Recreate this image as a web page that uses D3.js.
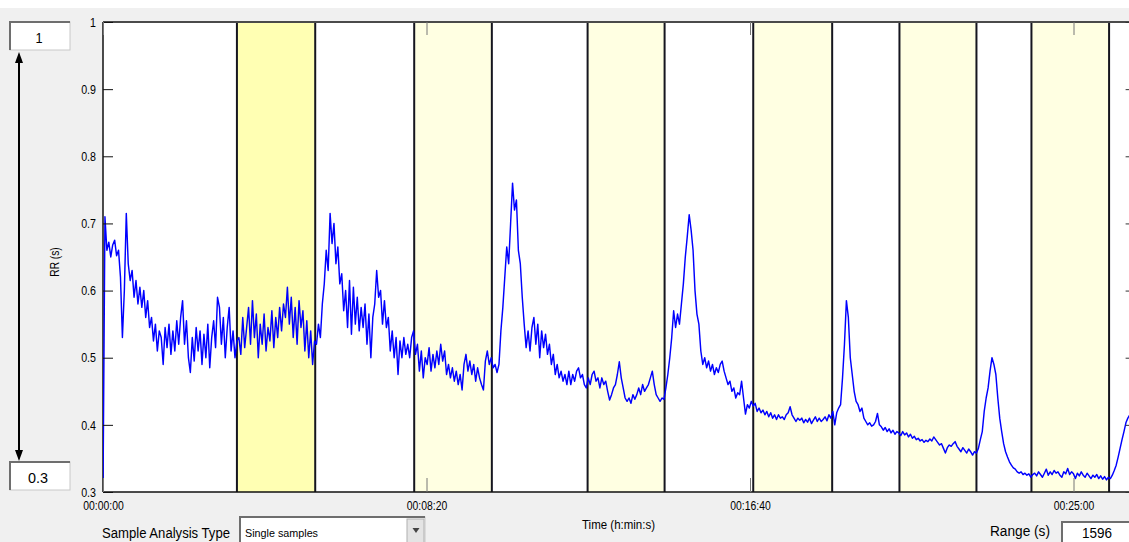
<!DOCTYPE html>
<html>
<head>
<meta charset="utf-8">
<script src="https://cdn.jsdelivr.net/npm/d3@7"></script>
<style>
  html, body { margin: 0; padding: 0; background: #f0f0f0; overflow: hidden; }
  svg { display: block; font-family: "Liberation Sans", Arial, sans-serif; }
</style>
</head>
<body>
<svg id="chart" width="1129" height="542"></svg>
<script>
// ---- data -------------------------------------------------------------
// RR interval series (seconds), one sample every `sampleStep` seconds.
const sampleStep = 3;
const rrValues = [
  0.30, 0.71, 0.66, 0.672, 0.65, 0.668, 0.675, 0.652, 0.66, 0.62,
  0.53, 0.60, 0.715, 0.64, 0.615, 0.63, 0.59, 0.615, 0.58, 0.605,
  0.575, 0.60, 0.56, 0.585, 0.545, 0.56, 0.525, 0.55, 0.51, 0.54,
  0.53, 0.49, 0.545, 0.515, 0.55, 0.505, 0.54, 0.51, 0.555, 0.52,
  0.56, 0.585, 0.52, 0.555, 0.50, 0.478, 0.53, 0.495, 0.545, 0.51,
  0.54, 0.49, 0.535, 0.50, 0.55, 0.485, 0.53, 0.555, 0.515, 0.59,
  0.575, 0.52, 0.56, 0.50, 0.545, 0.575, 0.51, 0.54, 0.50, 0.525,
  0.53, 0.505, 0.56, 0.515, 0.545, 0.575, 0.52, 0.585, 0.53, 0.565,
  0.50, 0.55, 0.52, 0.565, 0.51, 0.545, 0.525, 0.57, 0.515, 0.56,
  0.53, 0.575, 0.54, 0.58, 0.56, 0.605, 0.55, 0.59, 0.53, 0.575,
  0.52, 0.585, 0.545, 0.57, 0.51, 0.555, 0.50, 0.54, 0.49, 0.525,
  0.52, 0.55, 0.53, 0.58, 0.61, 0.66, 0.63, 0.715, 0.67, 0.70,
  0.64, 0.665, 0.61, 0.625, 0.57, 0.60, 0.545, 0.615, 0.535, 0.605,
  0.55, 0.59, 0.54, 0.575, 0.545, 0.58, 0.52, 0.565, 0.50, 0.56,
  0.58, 0.63, 0.59, 0.60, 0.55, 0.585, 0.545, 0.56, 0.51, 0.54,
  0.50, 0.53, 0.475, 0.525, 0.50, 0.53, 0.505, 0.52, 0.50, 0.53,
  0.54, 0.505, 0.52, 0.48, 0.51, 0.47, 0.50, 0.49, 0.515, 0.48,
  0.505, 0.485, 0.51, 0.49, 0.52, 0.495, 0.51, 0.475, 0.49, 0.47,
  0.485, 0.465, 0.48, 0.46, 0.475, 0.452, 0.49, 0.505, 0.48, 0.495,
  0.475, 0.49, 0.465, 0.485, 0.47, 0.46, 0.452, 0.495, 0.51, 0.49,
  0.50, 0.485, 0.49, 0.478, 0.49, 0.54, 0.575, 0.62, 0.665, 0.64,
  0.70, 0.76, 0.72, 0.735, 0.66, 0.64, 0.59, 0.55, 0.515, 0.54,
  0.51, 0.545, 0.56, 0.52, 0.55, 0.50, 0.54, 0.515, 0.535, 0.505,
  0.52, 0.49, 0.505, 0.475, 0.49, 0.47, 0.48, 0.465, 0.475, 0.46,
  0.48, 0.46, 0.475, 0.465, 0.48, 0.485, 0.47, 0.475, 0.46, 0.455,
  0.47, 0.46, 0.475, 0.48, 0.465, 0.47, 0.455, 0.47, 0.46, 0.465,
  0.45, 0.437, 0.445, 0.455, 0.46, 0.475, 0.494, 0.47, 0.455, 0.44,
  0.435, 0.44, 0.432, 0.445, 0.438, 0.445, 0.455, 0.445, 0.46, 0.45,
  0.455, 0.46, 0.47, 0.48, 0.46, 0.445, 0.44, 0.435, 0.44, 0.438,
  0.455, 0.475, 0.50, 0.53, 0.57, 0.545, 0.565, 0.55, 0.58, 0.61,
  0.65, 0.68, 0.713, 0.69, 0.66, 0.60, 0.565, 0.55, 0.51, 0.49,
  0.50, 0.485, 0.495, 0.48, 0.49, 0.475, 0.485, 0.478, 0.49, 0.495,
  0.48, 0.47, 0.46, 0.465, 0.45, 0.455, 0.44, 0.448, 0.445, 0.465,
  0.44, 0.416, 0.43, 0.425, 0.435, 0.428, 0.432, 0.42, 0.425, 0.418,
  0.422, 0.415, 0.42, 0.412, 0.418, 0.41, 0.415, 0.408, 0.415, 0.41,
  0.412, 0.408, 0.415, 0.418, 0.427, 0.415, 0.41, 0.405, 0.41, 0.407,
  0.41, 0.403, 0.408, 0.404, 0.41, 0.402, 0.407, 0.412, 0.405, 0.41,
  0.405, 0.408, 0.412, 0.406, 0.415, 0.41, 0.42, 0.40, 0.418, 0.425,
  0.43, 0.47, 0.52, 0.585, 0.56, 0.50, 0.475, 0.45, 0.435, 0.43,
  0.42, 0.425, 0.41, 0.405, 0.40, 0.403, 0.398, 0.40, 0.405, 0.417,
  0.40, 0.397, 0.392, 0.396, 0.39, 0.394, 0.388, 0.392, 0.386, 0.39,
  0.388, 0.384, 0.39, 0.385, 0.388, 0.382, 0.386, 0.38, 0.383, 0.378,
  0.38, 0.376, 0.378, 0.374, 0.377, 0.375, 0.379, 0.376, 0.382, 0.378,
  0.374, 0.37, 0.372, 0.365, 0.358, 0.366, 0.37, 0.368, 0.372, 0.375,
  0.368, 0.364, 0.36, 0.366, 0.362, 0.358, 0.364, 0.36, 0.355, 0.36,
  0.358, 0.365, 0.378, 0.39, 0.42, 0.44, 0.455, 0.48, 0.50, 0.49,
  0.475, 0.44, 0.41, 0.39, 0.372, 0.36, 0.352, 0.345, 0.34, 0.336,
  0.334, 0.33, 0.328, 0.33, 0.326, 0.328, 0.325, 0.327, 0.322, 0.326,
  0.328, 0.324, 0.33, 0.326, 0.322, 0.328, 0.334, 0.325, 0.33, 0.326,
  0.332, 0.328, 0.33, 0.325, 0.322, 0.33, 0.327, 0.335, 0.326, 0.33,
  0.327, 0.32, 0.328, 0.324, 0.33, 0.325, 0.322, 0.328, 0.324, 0.32,
  0.325, 0.322, 0.326, 0.32, 0.324, 0.319, 0.323, 0.318, 0.322, 0.32,
  0.325, 0.332, 0.34, 0.352, 0.365, 0.378, 0.39, 0.403, 0.41, 0.415,
  0.42, 0.425, 0.428
];

// Analysis windows (seconds); the first one is the selected window.
const windowStarts = [207, 481, 749, 1005, 1231, 1435];
const windowEnds   = [328, 601, 868, 1127, 1350, 1555];
const selectedWindow = 0;

// Axis settings and control values
const rangeSeconds = 1596;
const rrMin = 0.3, rrMax = 1;
const timeTicks = [0, 500, 1000, 1500];
const rrTicks = [0.3, 0.4, 0.5, 0.6, 0.7, 0.8, 0.9, 1];
const analysisType = "Single samples";

// ---- layout -----------------------------------------------------------
const W = 1129, H = 542;
const plot = { left: 103, top: 22, bottom: 492 };
plot.right = plot.left + rangeSeconds * 0.647;

const svg = d3.select("#chart");

const x = d3.scaleLinear().domain([0, rangeSeconds]).range([plot.left, plot.right]);
const y = d3.scaleLinear().domain([rrMin, rrMax]).range([plot.bottom, plot.top]);

const fmtTime = s => {
  const h = Math.floor(s / 3600), m = Math.floor((s % 3600) / 60), sec = Math.round(s % 60);
  return [h, m, sec].map(v => String(v).padStart(2, "0")).join(":");
};

// squeeze text horizontally to the narrow dialog font look
function squeeze(sel, factor) {
  sel.each(function () {
    const w = this.getComputedTextLength();
    d3.select(this).attr("textLength", w * factor).attr("lengthAdjust", "spacingAndGlyphs");
  });
}
function fit(sel, width) {
  sel.attr("textLength", width).attr("lengthAdjust", "spacingAndGlyphs");
}

// window background
svg.append("rect").attr("width", W).attr("height", H).attr("fill", "#f0f0f0");
svg.append("rect").attr("width", W).attr("height", 8).attr("fill", "#ffffff");

// plot area
svg.append("defs").append("clipPath").attr("id", "plotClip")
  .append("rect")
  .attr("x", plot.left).attr("y", plot.top)
  .attr("width", plot.right - plot.left).attr("height", plot.bottom - plot.top);

svg.append("rect")
  .attr("x", plot.left).attr("y", plot.top)
  .attr("width", plot.right - plot.left).attr("height", plot.bottom - plot.top)
  .attr("fill", "#ffffff");

const windows = windowStarts.map((s, i) => ({ start: s, end: windowEnds[i], selected: i === selectedWindow }));

const wg = svg.append("g").attr("clip-path", "url(#plotClip)");
wg.selectAll("rect.win").data(windows).join("rect")
  .attr("class", "win")
  .attr("x", d => x(d.start)).attr("y", plot.top)
  .attr("width", d => x(d.end) - x(d.start)).attr("height", plot.bottom - plot.top)
  .attr("fill", d => d.selected ? "#ffffb3" : "#ffffe2");

const edges = windows.flatMap(d => [d.start, d.end]);
wg.selectAll("line.edge").data(edges).join("line")
  .attr("class", "edge")
  .attr("x1", d => x(d)).attr("x2", d => x(d))
  .attr("y1", plot.top).attr("y2", plot.bottom)
  .attr("stroke", "#15151f").attr("stroke-width", 2);

// frame
svg.append("line").attr("x1", plot.left).attr("x2", plot.right)
  .attr("y1", plot.top).attr("y2", plot.top).attr("stroke", "#4a4a4a").attr("stroke-width", 2);
svg.append("line").attr("x1", plot.left).attr("x2", plot.right)
  .attr("y1", plot.bottom).attr("y2", plot.bottom).attr("stroke", "#111").attr("stroke-width", 1.5);
svg.append("line").attr("x1", plot.left).attr("x2", plot.left)
  .attr("y1", plot.top).attr("y2", plot.bottom).attr("stroke", "#111").attr("stroke-width", 1.5);
svg.append("line").attr("x1", plot.right).attr("x2", plot.right)
  .attr("y1", plot.top).attr("y2", plot.bottom).attr("stroke", "#111").attr("stroke-width", 1.5);

// RR trace
const series = rrValues.map((v, i) => ({ t: i * sampleStep, v }));
const line = d3.line().x(d => x(d.t)).y(d => y(d.v));
svg.append("path")
  .datum(series)
  .attr("clip-path", "url(#plotClip)")
  .attr("d", line)
  .attr("fill", "none")
  .attr("stroke", "#0000ff")
  .attr("stroke-width", 1.45)
  .attr("stroke-linejoin", "round");

// y axis (ticks point into the plot)
const yAxis = svg.append("g")
  .attr("transform", `translate(${plot.left},0)`)
  .call(d3.axisLeft(y).tickValues(rrTicks).tickFormat(d3.format("~g"))
    .tickSizeInner(-10).tickSizeOuter(0).tickPadding(7));
yAxis.select(".domain").remove();
yAxis.selectAll(".tick line").attr("stroke", "#111");
yAxis.selectAll(".tick text")
  .attr("font-size", 13).attr("fill", "#000").attr("font-family", "Liberation Sans, Arial, sans-serif")
  .call(squeeze, 0.82);

// right-hand tick marks
const yAxisR = svg.append("g")
  .attr("transform", `translate(${plot.right},0)`)
  .call(d3.axisRight(y).tickValues(rrTicks).tickFormat("").tickSizeInner(-10).tickSizeOuter(0));
yAxisR.select(".domain").remove();
yAxisR.selectAll(".tick line").attr("stroke", "#333");

// x axis (bottom, ticks inside)
const xAxis = svg.append("g")
  .attr("transform", `translate(0,${plot.bottom})`)
  .call(d3.axisBottom(x).tickValues(timeTicks).tickFormat(fmtTime)
    .tickSizeInner(-14).tickSizeOuter(0).tickPadding(9));
xAxis.select(".domain").remove();
xAxis.selectAll(".tick line").attr("stroke", "#777");
xAxis.selectAll(".tick text")
  .attr("font-size", 13).attr("fill", "#000").attr("font-family", "Liberation Sans, Arial, sans-serif")
  .call(squeeze, 0.8);

// top tick marks
const xAxisT = svg.append("g")
  .attr("transform", `translate(0,${plot.top})`)
  .call(d3.axisTop(x).tickValues(timeTicks).tickFormat("").tickSizeInner(-13).tickSizeOuter(0));
xAxisT.select(".domain").remove();
xAxisT.selectAll(".tick line").attr("stroke", "#777");

// axis titles
svg.append("text")
  .attr("transform", "translate(59,262) rotate(-90)")
  .attr("text-anchor", "middle").attr("font-size", 12).attr("fill", "#000")
  .text("RR (s)").call(squeeze, 0.85);

svg.append("text")
  .attr("x", 582).attr("y", 529).attr("font-size", 13).attr("fill", "#000")
  .text("Time (h:min:s)").call(fit, 73);

// ---- controls ---------------------------------------------------------
function sunkenBox(x0, y0, w, h) {
  const g = svg.append("g");
  g.append("rect").attr("x", x0).attr("y", y0).attr("width", w).attr("height", h)
    .attr("fill", "#ffffff").attr("stroke", "#c8c8c8").attr("stroke-width", 1);
  g.append("path")
    .attr("d", `M${x0},${y0 + h} V${y0} H${x0 + w}`)
    .attr("fill", "none").attr("stroke", "#6e6e6e").attr("stroke-width", 2);
  return g;
}

// y range inputs and double arrow
sunkenBox(10, 22, 60, 28);
svg.append("text").attr("x", 39).attr("y", 43).attr("text-anchor", "middle")
  .attr("font-size", 15).attr("fill", "#000").text(d3.format("~g")(rrMax)).call(squeeze, 0.85);

sunkenBox(10, 462, 60, 28);
svg.append("text").attr("x", 38).attr("y", 483).attr("text-anchor", "middle")
  .attr("font-size", 15).attr("fill", "#000").text(d3.format("~g")(rrMin)).call(fit, 20);

svg.append("line").attr("x1", 19).attr("x2", 19).attr("y1", 60).attr("y2", 452)
  .attr("stroke", "#000").attr("stroke-width", 2);
svg.append("path").attr("d", "M19,52 L15,63 L23,63 Z").attr("fill", "#000");
svg.append("path").attr("d", "M19,461 L15,450 L23,450 Z").attr("fill", "#000");

// sample analysis type selector
svg.append("text").attr("x", 102).attr("y", 538).attr("font-size", 14).attr("fill", "#000")
  .text("Sample Analysis Type").call(fit, 128);
sunkenBox(240, 517, 185, 32);
svg.append("text").attr("x", 245).attr("y", 537).attr("font-size", 11.5).attr("fill", "#000")
  .text(analysisType).call(fit, 73);
svg.append("rect").attr("x", 407).attr("y", 519).attr("width", 17).attr("height", 30)
  .attr("fill", "#e4e4e4").attr("stroke", "#b0b0b0");
svg.append("path").attr("d", "M412.5,528 L419.5,528 L416,533 Z").attr("fill", "#444");

// range input
svg.append("text").attr("x", 990).attr("y", 536).attr("font-size", 14).attr("fill", "#000")
  .text("Range (s)").call(fit, 60);
sunkenBox(1062, 522, 80, 30);
svg.append("text").attr("x", 1097).attr("y", 538).attr("text-anchor", "middle")
  .attr("font-size", 15).attr("fill", "#000").text(String(rangeSeconds)).call(fit, 30);
</script>
</body>
</html>
